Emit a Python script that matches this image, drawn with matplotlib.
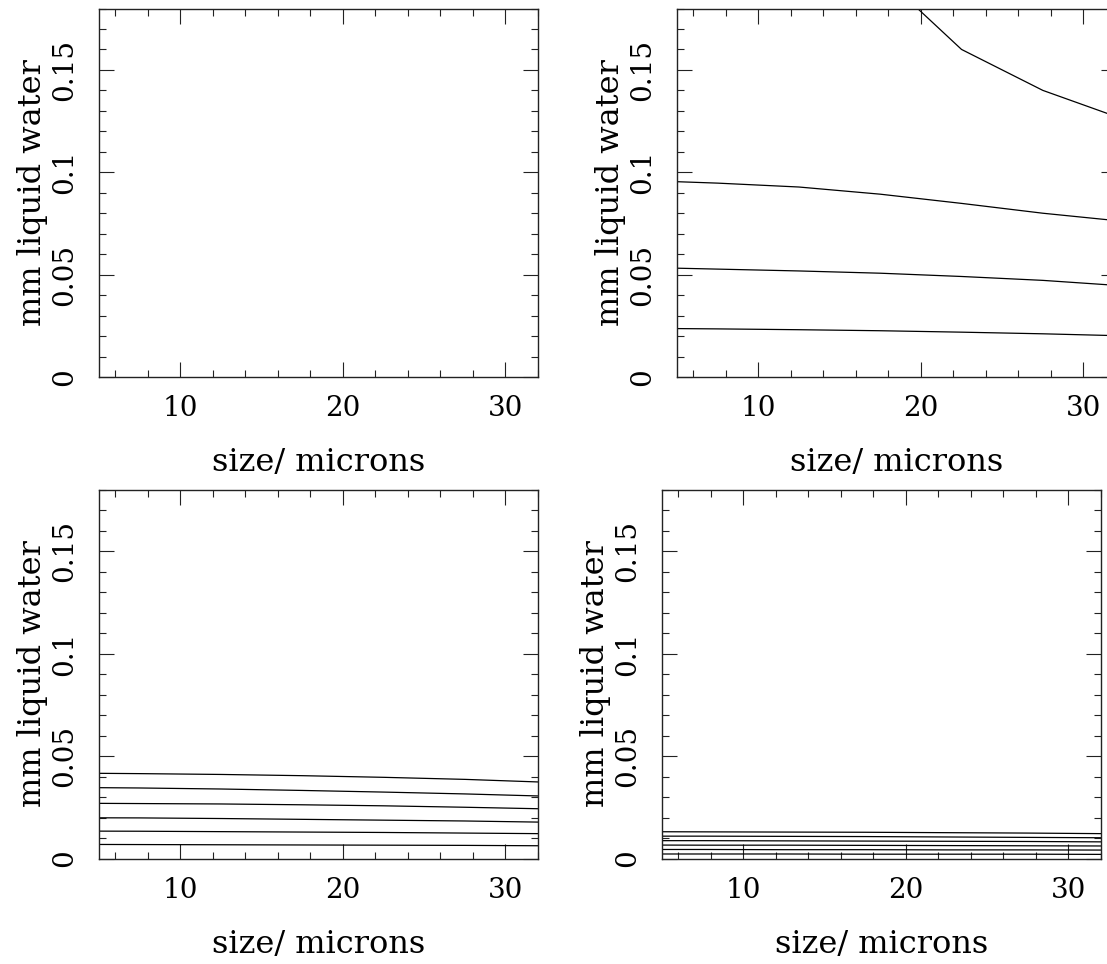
import matplotlib
matplotlib.use('Agg')
from matplotlib import pyplot as plt
from matplotlib.ticker import MultipleLocator, FuncFormatter

plt.rcParams['font.family'] = ['DejaVu Serif']

# droplet size grid (microns)
size = [2.5, 7.5, 12.5, 17.5, 22.5, 27.5, 32.5]

# panel 1 is empty
panel1 = []

# panel 2: top-right
panel2 = [
    [0.290, 0.265, 0.235, 0.197, 0.160, 0.140, 0.1258],
    [0.0961, 0.0947, 0.0928, 0.0893, 0.0848, 0.0800, 0.0760],
    [0.0536, 0.0527, 0.0518, 0.0507, 0.0491, 0.0472, 0.0445],
    [0.0238, 0.0235, 0.0231, 0.0226, 0.0219, 0.0211, 0.0201],
]

# panel 3: bottom-left
panel3 = [
    [0.0417, 0.0414, 0.0410, 0.0404, 0.0396, 0.0386, 0.0372],
    [0.0347, 0.0344, 0.0339, 0.0332, 0.0324, 0.0315, 0.0304],
    [0.0270, 0.0268, 0.0266, 0.0262, 0.0257, 0.0250, 0.0242],
    [0.0199, 0.0198, 0.0195, 0.0191, 0.0187, 0.0183, 0.0177],
    [0.0134, 0.0133, 0.0131, 0.0129, 0.0127, 0.0124, 0.0121],
    [0.0069, 0.0068, 0.0067, 0.0066, 0.0065, 0.0064, 0.0062],
]

# panel 4: bottom-right
panel4 = [
    [0.0131, 0.0130, 0.0129, 0.0128, 0.0126, 0.0124, 0.0121],
    [0.0109, 0.0109, 0.0108, 0.0107, 0.0105, 0.0103, 0.0101],
    [0.0087, 0.0087, 0.0086, 0.0085, 0.0084, 0.0083, 0.0081],
    [0.0066, 0.0065, 0.0065, 0.0064, 0.0063, 0.0062, 0.0061],
    [0.0044, 0.0044, 0.0043, 0.0043, 0.0042, 0.0042, 0.0041],
    [0.0022, 0.0022, 0.0022, 0.0021, 0.0021, 0.0021, 0.0020],
]

W, H = 1107, 964
fig = plt.figure(figsize=(W / 100, H / 100), dpi=100)

# axes boxes in pixels: left, top, right, bottom
boxes = [
    (99, 8.5, 538, 377),
    (677, 8.5, 1116, 377),
    (99, 489.5, 538, 858.5),
    (662, 489.5, 1101, 858.5),
]
panels = [panel1, panel2, panel3, panel4]

for (l, t, r, b), data in zip(boxes, panels):
    ax = fig.add_axes([l / W, 1 - b / H, (r - l) / W, (b - t) / H])
    for curve in data:
        ax.plot(size, curve, color='black', lw=0.9)
    ax.set_xlim(5, 32)
    ax.set_ylim(0, 0.18)
    ax.xaxis.set_major_locator(MultipleLocator(10))
    ax.xaxis.set_minor_locator(MultipleLocator(2))
    ax.yaxis.set_major_locator(MultipleLocator(0.05))
    ax.yaxis.set_minor_locator(MultipleLocator(0.01))
    ax.yaxis.set_major_formatter(FuncFormatter(lambda v, p: '%g' % round(v, 3)))
    ax.tick_params(which='both', direction='in', top=True, right=True,
                   width=0.8, color='#222222')
    ax.tick_params(which='major', length=10.5)
    ax.tick_params(which='minor', length=5)
    ax.tick_params(axis='x', labelsize=20, pad=13)
    ax.tick_params(axis='y', labelsize=20, pad=15, labelrotation=90)
    for lab in ax.get_yticklabels():
        lab.set_va('center')
    for sp in ax.spines.values():
        sp.set_linewidth(1.0)
        sp.set_color('#222222')
    ax.set_xlabel('size/ microns', fontsize=23, va='center')
    ax.xaxis.set_label_coords(0.5, -0.232)
    ax.set_ylabel('mm liquid water', fontsize=23, va='center')
    ax.yaxis.set_label_coords(-0.152, 0.5)

fig.savefig('out.png', dpi=100)
